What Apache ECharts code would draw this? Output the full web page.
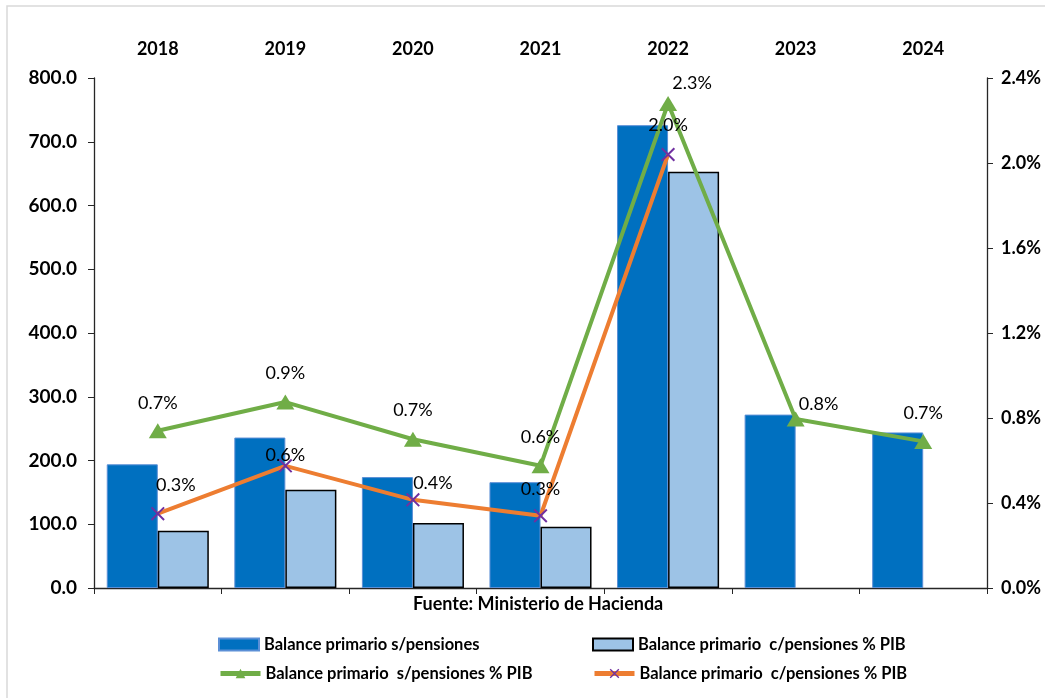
<!DOCTYPE html>
<html>
<head>
<meta charset="utf-8">
<script src="https://cdn.jsdelivr.net/npm/echarts@6/dist/echarts.min.js"></script>
<style>
html,body{margin:0;padding:0;background:#fff;}
#chart{width:1045px;height:698px;}
</style>
</head>
<body>
<div id="chart"></div>
<script>
const categories = ['2018','2019','2020','2021','2022','2023','2024'];
const balanceSinPensiones = [194, 236, 174, 166, 726, 272, 244];
const balanceConPensiones = [90, 154, 102, 96, 653, null, null];
const pctSinPensiones = [0.74, 0.875, 0.70, 0.575, 2.28, 0.795, 0.69];
const pctConPensiones = [0.35, 0.575, 0.415, 0.34, 2.04, null, null];
const pctSinLabels = ['0.7%','0.9%','0.7%','0.6%','2.3%','0.8%','0.7%'];
const pctConLabels = ['0.3%','0.6%','0.4%','0.3%','2.0%','',''];
const leftTicks = {min:0, max:800, interval:100};
const rightTicks = {min:0, max:2.4, interval:0.4};

const names = [
  'Balance primario s/pensiones',
  'Balance primario  c/pensiones % PIB',
  'Balance primario  s/pensiones % PIB',
  'Balance primario  c/pensiones % PIB '
];

// label offsets (style only)
const greenOffsets = [[0,-28],[0,-29],[0,-29],[0,-29],[24,-20],[23,-15],[0,-28]];
const orangeOffsets = [[18,-28],[0,-11],[20,-17],[0,-27],[0,-29],[0,0],[0,0]];

const FONT = 'Lato';
const labelStyle = {fontFamily: FONT, fontSize: 18, color: '#000'};

function lineData(vals, labels, offs){
  return vals.map((v,i)=> v==null ? null : ({
    value: v,
    label: {show:true, position:'inside', offset: offs[i], formatter: labels[i], ...labelStyle}
  }));
}

const xPath = 'path://M0,1L1,0L10,9L9,10Z M9,0L10,1L1,10L0,9Z';

const chart = echarts.init(document.getElementById('chart'));
const legendText = {fontFamily: FONT, fontWeight:'bold', fontSize:16.5, color:'#000'};
const legendBase = {itemWidth:40, itemHeight:12, itemGap:4, textStyle: legendText, padding:0, selectedMode:false};

chart.setOption({
  animation:false,
  backgroundColor:'#fff',
  graphic:[{type:'rect', shape:{x:7,y:6,width:1045,height:700}, style:{fill:'none', stroke:'#d9d9d9', lineWidth:1.5}, silent:true}],
  title:{text:'Fuente: Ministerio de Hacienda', left:413, top:595, padding:0,
    textStyle:{fontFamily:FONT, fontWeight:'bold', fontSize:18, color:'#000'}},
  grid:{left:94, right:58, top:78, bottom:110, containLabel:false},
  legend:[
    {...legendBase, left:218, top:636, data:[{name:names[0], icon:'rect'}]},
    {...legendBase, left:592, top:636, data:[{name:names[1], icon:'rect'}]},
    {...legendBase, left:218, top:665, lineStyle:{width:5}, data:[names[2]]},
    {...legendBase, left:592, top:665, lineStyle:{width:5}, data:[names[3]]}
  ],
  xAxis:[
    {type:'category', data:categories, position:'bottom',
      axisLine:{lineStyle:{color:'#262626', width:1.3}},
      axisTick:{show:true, length:6, lineStyle:{color:'#262626'}},
      axisLabel:{show:false}},
    {type:'category', data:categories, position:'top',
      axisLine:{show:false}, axisTick:{show:false},
      axisLabel:{show:true, margin:20, fontFamily:FONT, fontWeight:'bold', fontSize:18, color:'#000'}}
  ],
  yAxis:[
    {type:'value', ...leftTicks, position:'left',
      axisLine:{show:true, lineStyle:{color:'#262626', width:1.3}},
      axisTick:{show:true, length:6, lineStyle:{color:'#262626'}},
      splitLine:{show:false},
      axisLabel:{margin:17, formatter:v=>v.toFixed(1), fontFamily:FONT, fontWeight:'bold', fontSize:19, color:'#000'}},
    {type:'value', ...rightTicks, position:'right',
      axisLine:{show:true, lineStyle:{color:'#262626', width:1.3}},
      axisTick:{show:true, length:6, lineStyle:{color:'#262626'}},
      splitLine:{show:false},
      axisLabel:{margin:14, formatter:v=>v.toFixed(1)+'%', fontFamily:FONT, fontWeight:'bold', fontSize:18, color:'#000'}}
  ],
  series:[
    {name:names[0], type:'bar', data:balanceSinPensiones, barGap:'0%', barCategoryGap:'20%',
      itemStyle:{color:'#0070C0', borderColor:'#5B8FD6', borderWidth:1}},
    {name:names[1], type:'bar', data:balanceConPensiones,
      itemStyle:{color:'#9DC3E6', borderColor:'#000', borderWidth:1.5}},
    {name:names[2], type:'line', yAxisIndex:1, data:lineData(pctSinPensiones, pctSinLabels, greenOffsets),
      lineStyle:{color:'#70AD47', width:4}, itemStyle:{color:'#70AD47'},
      symbol:'triangle', symbolSize:[18,15], z:3},
    {name:names[3], type:'line', yAxisIndex:1, data:lineData(pctConPensiones, pctConLabels, orangeOffsets),
      lineStyle:{color:'#ED7D31', width:4}, itemStyle:{color:'#7030A0'},
      symbol:xPath, symbolSize:14, z:4}
  ]
});
</script>
</body>
</html>
